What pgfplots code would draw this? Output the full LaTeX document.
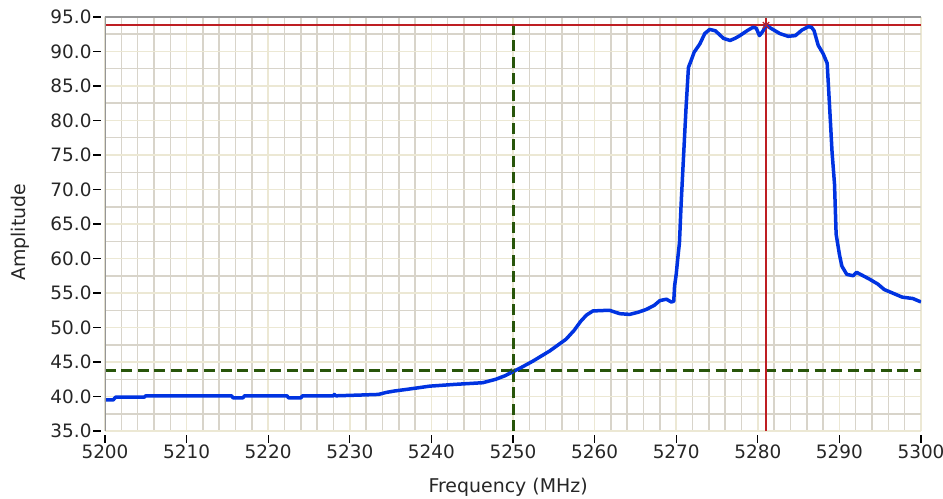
\documentclass[border=0pt]{standalone}
\usepackage{fontspec}
\setmainfont{DejaVu Sans}
\usepackage{pgfplots}
\pgfplotsset{compat=1.18}
\definecolor{curve}{RGB}{0,51,225}
\definecolor{cgreen}{RGB}{40,85,10}
\definecolor{cred}{RGB}{190,30,35}
\definecolor{gmaj}{RGB}{236,232,212}
\definecolor{gmin}{RGB}{216,212,202}
\definecolor{frame}{RGB}{150,150,150}
\begin{document}
\begin{tikzpicture}
\useasboundingbox (-105bp,-68bp) rectangle (838bp,431bp);
\begin{axis}[
  at={(0,0)}, anchor=south west,
  scale only axis, width=816bp, height=414bp,
  xmin=5200, xmax=5300, ymin=35, ymax=95,
  xtick={5200,5210,...,5300},
  xticklabels={5200,5210,5220,5230,5240,5250,5260,5270,5280,5290,5300},
  ytick={35,40,...,95},
  yticklabels={35.0,40.0,45.0,50.0,55.0,60.0,65.0,70.0,75.0,80.0,85.0,90.0,95.0},
  minor x tick num=4,
  minor y tick num=1,
  grid=both,
  major grid style={draw=gmaj, line width=1.5bp},
  minor grid style={draw=gmin, line width=1.5bp},
  axis line style={draw=none},
  tick align=outside,
  xtick pos=bottom, ytick pos=left,
  major tick length=8bp, minor tick length=0bp,
  major tick style={draw=black, line width=1.2bp},
  xtick style={yshift=-4bp},
  ytick style={xshift=-4bp},
  tick label style={font=\fontsize{18.5}{20}\selectfont, text=black!85},
  xticklabel style={anchor=north, yshift=-2bp},
  yticklabel style={anchor=east, xshift=-2bp},
  label style={font=\fontsize{19}{20}\selectfont, text=black!85},
  xlabel={Frequency (MHz)},
  xlabel style={at={(axis description cs:0.494,-0.1353)}, anchor=center},
  ylabel={Amplitude},
  ylabel style={at={(axis description cs:-0.104,0.48)}, anchor=center},
]
\addplot[cgreen, line width=3bp, dash pattern=on 11bp off 5.5bp] coordinates {(5200,43.75) (5300,43.75)};
\addplot[cgreen, line width=3bp, dash pattern=on 11bp off 5.5bp] coordinates {(5250,35) (5250,95)};
\addplot[cred, line width=1.8bp] coordinates {(5200,93.8) (5300,93.8)};
\addplot[cred, line width=1.8bp] coordinates {(5281,35) (5281,95)};
\addplot[curve, line width=3.5bp, line join=round] coordinates {
(5200.0,39.5) (5201.0,39.5) (5201.3,39.9) (5204.8,39.9) (5205.0,40.1)
(5215.5,40.1) (5215.7,39.8) (5216.9,39.8) (5217.1,40.1) (5222.3,40.1)
(5222.5,39.8) (5224.0,39.8) (5224.2,40.1) (5228.0,40.1) (5228.1,40.3)
(5228.3,40.1) (5231.0,40.2) (5233.5,40.3) (5234.5,40.6) (5235.5,40.8)
(5237.4,41.1) (5239.8,41.5) (5242.8,41.75) (5246.3,42.0) (5247.9,42.5)
(5249.0,43.0) (5250.0,43.6) (5251.0,44.2) (5252.4,45.1) (5254.5,46.6)
(5256.5,48.3) (5257.5,49.6) (5258.3,50.9) (5259.0,51.8) (5259.8,52.4)
(5261.8,52.5) (5263.1,52.0) (5264.3,51.9) (5265.3,52.2) (5266.3,52.6)
(5267.3,53.2) (5268.0,53.9) (5268.8,54.1) (5269.4,53.7) (5269.7,53.8)
(5269.8,56.0) (5270.0,57.7) (5270.2,60.1) (5270.4,62.3) (5270.6,67.8)
(5270.8,72.5) (5271.0,77.1) (5271.2,81.7) (5271.5,87.7) (5271.8,88.6)
(5272.2,89.9) (5272.9,91.1) (5273.5,92.6) (5274.1,93.2) (5274.8,93.0)
(5275.8,91.9) (5276.6,91.6) (5277.2,91.9) (5277.8,92.3) (5278.8,93.1)
(5279.4,93.5) (5279.8,93.4) (5280.2,92.3) (5280.6,92.9) (5281.0,93.8)
(5281.7,93.3) (5282.7,92.6) (5283.7,92.2) (5284.6,92.3) (5285.4,93.1)
(5286.2,93.6) (5286.6,93.5) (5286.9,93.0) (5287.4,90.9) (5288.0,89.7)
(5288.5,88.3) (5288.7,84.1) (5288.9,79.8) (5289.1,75.4) (5289.4,70.8)
(5289.6,63.5) (5290.0,60.6) (5290.3,58.9) (5290.9,57.7) (5291.7,57.5)
(5292.1,58.0) (5292.9,57.5) (5293.7,57.0) (5294.7,56.3) (5295.5,55.5)
(5296.5,55.0) (5297.7,54.4) (5299.0,54.2) (5300.0,53.7)
};
\addplot[cred, only marks, mark=x, mark size=4.5bp, line width=1.2bp] coordinates {(5281,93.8)};
\addplot[cgreen, only marks, mark=x, mark size=3bp, line width=0.8bp] coordinates {(5250,43.75)};
\draw[frame, line width=2bp] (rel axis cs:0,0) -- (rel axis cs:0,1) -- (rel axis cs:1,1);
\end{axis}
\end{tikzpicture}
\end{document}
